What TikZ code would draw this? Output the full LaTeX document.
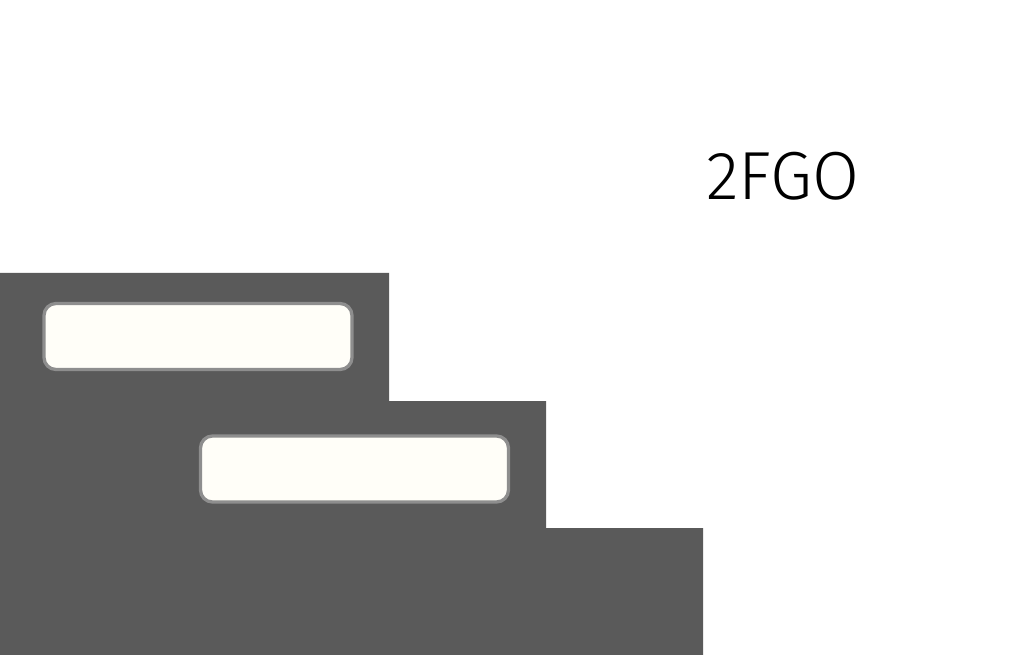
\documentclass[tikz,border=0pt]{standalone}
\usepackage{fontspec}
\setmainfont{Fira Sans Light}
\definecolor{scala}{HTML}{5A5A5A}
\definecolor{bordo}{HTML}{8E8E8E}
\definecolor{crema}{HTML}{FFFEF8}
\begin{document}
\begin{tikzpicture}[x=1pt,y=-1pt,line join=round,
    gradino/.style={fill=scala,draw=none},
    casella/.style={rectangle,rounded corners=12pt,draw=bordo,line width=3.3pt,
      fill=crema,minimum width=308pt,minimum height=66pt,inner sep=0pt},
    titolo/.style={font=\fontsize{68}{68}\selectfont,inner sep=0pt}]

  \useasboundingbox (0,0) rectangle (1021,655);

  % ---- la scala -----------------------------------------------------------
  \fill[gradino] (0,273) -- (389,273) -- (389,401) -- (546,401)
    -- (546,528) -- (703,528) -- (703,655) -- (0,655) -- cycle;

  % ---- le caselle -----------------------------------------------------------
  \node[casella] (c1) at (198,336.5) {};
  \node[casella] (c2) at (354.5,469) {};

  % ---- il titolo ------------------------------------------------------------
  \node[titolo] (t) at (783,176) {2FGO};

\end{tikzpicture}
\end{document}
